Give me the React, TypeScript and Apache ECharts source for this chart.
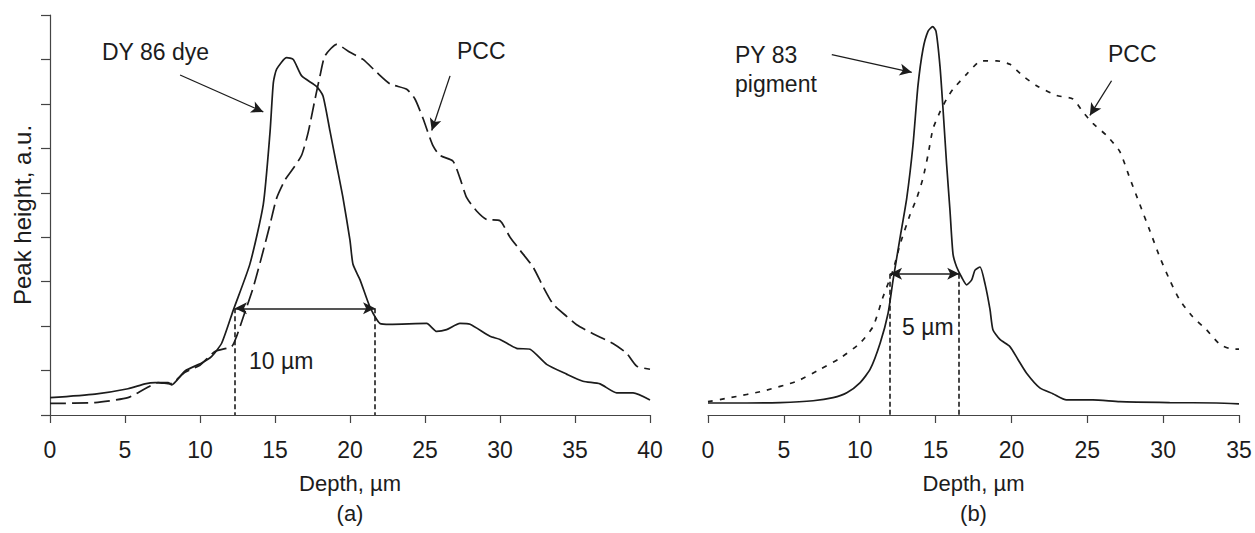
import React, { useEffect, useRef } from "react";
import * as echarts from "echarts";

// ---- Panel (a): DY 86 dye and PCC ----
const dyeDepth = [0, 3.0, 5.2, 6.33, 7.0, 7.87, 8.11, 9.0, 10.11, 10.78, 11.45, 12.22, 13.33, 14.22, 14.67, 14.89, 15.11, 15.78, 16.22, 16.78, 17.78, 18.2, 18.67, 19.11, 19.53, 20.0, 20.2, 20.67, 21.33, 22.0, 22.67, 25.11, 25.78, 26.44, 27.33, 28.0, 29.33, 30.0, 31.11, 32.0, 33.11, 34.44, 35.53, 36.67, 37.78, 38.87, 40.0];
const dyeHeight = [0.39, 0.47, 0.59, 0.7, 0.73, 0.73, 0.68, 0.99, 1.17, 1.32, 1.62, 2.36, 3.4, 4.74, 6.37, 7.48, 7.78, 8.04, 8.0, 7.63, 7.39, 7.18, 6.38, 5.62, 4.89, 3.93, 3.39, 3.04, 2.43, 2.06, 2.04, 2.06, 1.88, 1.92, 2.06, 2.04, 1.77, 1.7, 1.5, 1.48, 1.14, 0.92, 0.76, 0.7, 0.5, 0.5, 0.34];

const pccADepth = [0, 3.0, 5.2, 6.33, 7.2, 8.0, 9.0, 10.0, 11.0, 12.11, 12.44, 12.89, 13.56, 14.22, 14.67, 15.11, 15.67, 16.22, 16.78, 17.22, 17.67, 18.0, 18.33, 19.11, 20.0, 20.87, 21.78, 22.67, 23.78, 24.33, 24.87, 25.53, 26.0, 26.87, 27.33, 27.78, 28.44, 29.11, 30.0, 30.67, 31.33, 32.2, 32.87, 33.53, 34.44, 35.11, 36.2, 37.53, 38.44, 39.11, 40.0];
const pccAHeight = [0.26, 0.28, 0.39, 0.59, 0.73, 0.7, 0.96, 1.12, 1.43, 1.54, 1.77, 2.21, 2.88, 3.7, 4.29, 4.88, 5.29, 5.55, 5.85, 6.37, 7.11, 7.63, 8.08, 8.34, 8.16, 8.0, 7.71, 7.45, 7.33, 7.11, 6.67, 6.06, 5.84, 5.71, 5.33, 4.89, 4.59, 4.4, 4.37, 4.0, 3.71, 3.33, 2.89, 2.5, 2.22, 2.03, 1.83, 1.61, 1.39, 1.1, 1.03];

// ---- Panel (b): PY 83 pigment and PCC ----
const pyDepth = [0, 2.57, 4.76, 6.93, 8.25, 9.15, 10.03, 10.69, 11.35, 11.87, 12.2, 12.66, 13.1, 13.51, 13.84, 14.17, 14.5, 14.81, 15.03, 15.29, 15.49, 15.73, 15.95, 16.15, 16.39, 16.72, 17.05, 17.38, 17.6, 17.93, 18.26, 18.59, 18.78, 19.24, 19.9, 20.43, 21.0, 21.87, 22.73, 23.63, 25.37, 27.14, 30.43, 33.51, 35.0];
const pyHeight = [0.27, 0.27, 0.28, 0.32, 0.39, 0.5, 0.73, 1.03, 1.62, 2.29, 3.04, 3.99, 4.88, 6.07, 7.41, 8.23, 8.63, 8.74, 8.63, 7.85, 6.89, 5.63, 4.6, 3.62, 3.33, 3.1, 2.93, 3.04, 3.26, 3.33, 2.95, 2.37, 1.92, 1.7, 1.54, 1.25, 0.94, 0.61, 0.48, 0.34, 0.34, 0.3, 0.28, 0.27, 0.25];

const pccBDepth = [0, 1.47, 3.64, 5.86, 7.39, 8.71, 10.03, 10.88, 11.54, 12.2, 12.66, 13.32, 13.76, 14.17, 14.5, 14.83, 15.29, 15.73, 16.15, 17.05, 17.79, 18.12, 19.03, 19.9, 20.75, 21.66, 22.98, 24.05, 24.71, 25.37, 26.27, 27.14, 27.8, 28.46, 29.12, 29.78, 30.43, 31.09, 31.95, 32.85, 33.74, 34.58, 35.0];
const pccBHeight = [0.3, 0.39, 0.54, 0.76, 1.03, 1.28, 1.62, 1.99, 2.66, 3.26, 3.84, 4.51, 4.88, 5.33, 5.85, 6.44, 6.82, 7.11, 7.33, 7.67, 7.93, 7.97, 7.97, 7.89, 7.63, 7.41, 7.19, 7.11, 6.82, 6.56, 6.29, 5.93, 5.33, 4.74, 4.15, 3.55, 3.04, 2.59, 2.21, 1.92, 1.59, 1.48, 1.48];

// axis ticks
const xTicksA = { min: 0, max: 40, interval: 5 };
const xTicksB = { min: 0, max: 35, interval: 5 };
const yRange = { min: 0, max: 9, interval: 1 };

// annotation geometry (data units)
const widthA = { from: 12.33, to: 21.67, level: 2.4 };
const widthB = { from: 12.0, to: 16.56, level: 3.18 };
const pointerDye = [[8.67, 7.65], [14.22, 6.82]];
const pointerPccA = [[26.67, 7.63], [25.45, 6.4]];
const pointerPy = [[8.16, 8.11], [13.43, 7.71]];
const pointerPccB = [[26.6, 7.52], [25.17, 6.74]];

const zip = (xs: number[], ys: number[]) => xs.map((x, i) => [x, ys[i]]);

const INK = "#1c1c1c";
const FONT = "'Liberation Sans', Arial, sans-serif";

function pointer(p: number[][]) {
  return [
    { coord: p[0], symbol: "none" },
    { coord: p[1], symbol: "arrow" },
  ];
}

function widthMarks(w: { from: number; to: number; level: number }) {
  return [
    [
      { coord: [w.from, w.level], symbol: "arrow", lineStyle: { type: "solid", width: 1.6 } },
      { coord: [w.to, w.level], symbol: "arrow" },
    ],
    [
      { coord: [w.from, w.level], symbol: "none", lineStyle: { type: [5, 3], width: 1.6 } },
      { coord: [w.from, 0], symbol: "none" },
    ],
    [
      { coord: [w.to, w.level], symbol: "none", lineStyle: { type: [5, 3], width: 1.6 } },
      { coord: [w.to, 0], symbol: "none" },
    ],
  ];
}

function xAxisOf(gridIndex: number, t: { min: number; max: number; interval: number }) {
  return {
    type: "value",
    gridIndex,
    min: t.min,
    max: t.max,
    interval: t.interval,
    name: "Depth, \u00b5m\n" + (gridIndex === 0 ? "(a)" : "(b)"),
    nameLocation: "middle",
    nameGap: 53,
    nameTextStyle: { fontSize: 22, color: INK, fontFamily: FONT, lineHeight: 30 },
    axisLine: { show: true, lineStyle: { color: "#444", width: 1.2 } },
    axisTick: { show: true, inside: false, length: 8, lineStyle: { color: "#444", width: 1.2 } },
    axisLabel: { show: true, fontSize: 23, color: INK, fontFamily: FONT, margin: 23 },
    splitLine: { show: false },
  };
}

export default function App() {
  const ref = useRef<HTMLDivElement>(null);
  useEffect(() => {
    document.body.style.margin = "0";
    if (!ref.current) return;
    const chart = echarts.init(ref.current, null, { renderer: "svg" });
    const curveStyle = { color: INK, width: 1.7 };
    const markBase = {
      silent: true,
      label: { show: false },
      symbolSize: [9, 12],
      lineStyle: { color: INK, width: 1.3, type: "solid" },
      emphasis: { disabled: true },
    };
    chart.setOption({
      animation: false,
      backgroundColor: "#ffffff",
      grid: [
        { left: 50, top: 15, width: 600, height: 404 },
        { left: 708, top: 15, width: 531, height: 404 },
      ],
      xAxis: [xAxisOf(0, xTicksA), xAxisOf(1, xTicksB)],
      yAxis: [
        {
          type: "value",
          gridIndex: 0,
          ...yRange,
          name: "Peak height, a.u.",
          nameLocation: "middle",
          nameGap: 16,
          nameTextStyle: { fontSize: 24, color: INK, fontFamily: FONT },
          axisLine: { show: true, lineStyle: { color: "#444", width: 1.2 } },
          axisTick: { show: true, inside: false, length: 9, lineStyle: { color: "#444", width: 1.2 } },
          axisLabel: { show: false },
          splitLine: { show: false },
        },
        { type: "value", gridIndex: 1, ...yRange, show: false, splitLine: { show: false } },
      ],
      series: [
        {
          name: "DY 86 dye",
          type: "line",
          xAxisIndex: 0,
          yAxisIndex: 0,
          data: zip(dyeDepth, dyeHeight),
          showSymbol: false,
          smooth: 0.2,
          lineStyle: curveStyle,
          markLine: { ...markBase, data: [pointer(pointerDye), ...widthMarks(widthA)] },
        },
        {
          name: "PCC (a)",
          type: "line",
          xAxisIndex: 0,
          yAxisIndex: 0,
          data: zip(pccADepth, pccAHeight),
          showSymbol: false,
          smooth: 0.2,
          lineStyle: { ...curveStyle, type: [16, 6] },
          markLine: { ...markBase, data: [pointer(pointerPccA)] },
        },
        {
          name: "PY 83 pigment",
          type: "line",
          xAxisIndex: 1,
          yAxisIndex: 1,
          data: zip(pyDepth, pyHeight),
          showSymbol: false,
          smooth: 0.2,
          lineStyle: curveStyle,
          markLine: { ...markBase, data: [pointer(pointerPy), ...widthMarks(widthB)] },
        },
        {
          name: "PCC (b)",
          type: "line",
          xAxisIndex: 1,
          yAxisIndex: 1,
          data: zip(pccBDepth, pccBHeight),
          showSymbol: false,
          smooth: 0.2,
          lineStyle: { ...curveStyle, type: [5, 7] },
          markLine: { ...markBase, data: [pointer(pointerPccB)] },
        },
      ],
      graphic: [
        { type: "text", left: 102, top: 40, style: { text: "DY 86 dye", fontSize: 23, fill: INK, fontFamily: FONT } },
        { type: "text", left: 457, top: 39, style: { text: "PCC", fontSize: 23, fill: INK, fontFamily: FONT } },
        { type: "text", left: 249, top: 349, style: { text: "10 \u00b5m", fontSize: 23, fill: INK, fontFamily: FONT } },
        { type: "text", left: 735, top: 40, style: { text: "PY 83\npigment", fontSize: 23, lineHeight: 29, fill: INK, fontFamily: FONT } },
        { type: "text", left: 1108, top: 42, style: { text: "PCC", fontSize: 23, fill: INK, fontFamily: FONT } },
        { type: "text", left: 902, top: 315, style: { text: "5 \u00b5m", fontSize: 23, fill: INK, fontFamily: FONT } },
      ],
    });
    return () => chart.dispose();
  }, []);
  return <div ref={ref} style={{ width: 1255, height: 533 }} />;
}
